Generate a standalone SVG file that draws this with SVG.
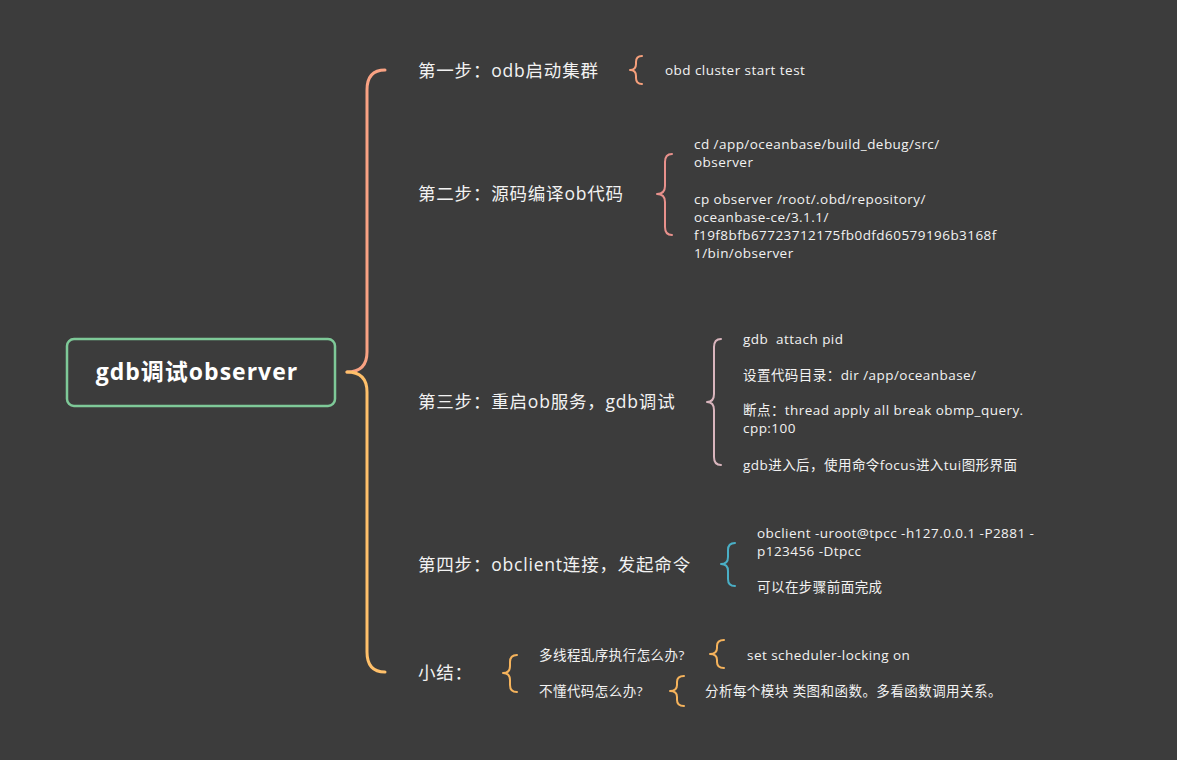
<svg xmlns="http://www.w3.org/2000/svg" width="1177" height="760" viewBox="0 0 1177 760">
<style>
.br{fill:none;stroke-width:2;stroke-linecap:round;stroke-linejoin:round}
.main{font-family:"Open Sans","Noto Sans CJK SC",sans-serif;font-size:17.5px;letter-spacing:0.8px;fill:#f2f2f2}
.sub{font-family:"Open Sans","Noto Sans CJK SC",sans-serif;font-size:13.5px;letter-spacing:0.45px;fill:#f2f2f2}
</style>
<rect width="1177" height="760" fill="#3c3c3c"/>
<g id="connectors">
<path class="br" style="stroke:#f9a283;stroke-width:3" d="M385,70 Q367,70 367,90 L367,352 Q367,372 347,372"/>
<path class="br" style="stroke:#ffc06a;stroke-width:3" d="M347,372 Q367,372 367,392 L367,652 Q367,672 385,672"/>
<path class="br" style="stroke:#f6a07c" d="M642,56 Q636,56 636,62 L636,64 Q636,70 630,70 Q636,70 636,76 L636,78 Q636,84 642,84"/>
<path class="br" style="stroke:#e8918c" d="M672,154 Q665,154 665,162 L665,186 Q665,194 657,194 Q665,194 665,202 L665,227 Q665,235 672,235"/>
<path class="br" style="stroke:#d9b5bd" d="M721,339 Q714,339 714,347 L714,394 Q714,402 707,402 Q714,402 714,410 L714,457 Q714,465 721,465"/>
<path class="br" style="stroke:#4aafc6" d="M735,543 Q728,543 728,550 L728,557 Q728,564 721,564 Q728,564 728,571 L728,579 Q728,586 735,586"/>
<path class="br" style="stroke:#f5b35c" d="M517,655 Q510,655 510,662 L510,666 Q510,673 503,673 Q510,673 510,680 L510,685 Q510,692 517,692"/>
<path class="br" style="stroke:#f5b35c" d="M724,640 Q717,640 717,646 L717,648 Q717,654 710,654 Q717,654 717,660 L717,662 Q717,668 724,668"/>
<path class="br" style="stroke:#f5b35c" d="M684,676 Q677,676 677,682 L677,685 Q677,691 670,691 Q677,691 677,697 L677,700 Q677,706 684,706"/>
</g>
<g id="root">
<rect x="67" y="339" width="268" height="67" rx="7" fill="#3c3c3c" stroke="#7ec998" stroke-width="2.5"/>
<text x="197" y="380" text-anchor="middle" style="font-family:'Open Sans','Noto Sans CJK SC',sans-serif;font-size:23px;letter-spacing:1px;font-weight:bold;fill:#ffffff">gdb调试observer</text>
</g>
<g id="step1">
<text class="main" x="418" y="77">第一步：odb启动集群</text>
<text class="sub" x="665" y="75">obd cluster start test</text>
</g>
<g id="step2">
<text class="main" x="418" y="200">第二步：源码编译ob代码</text>
<text class="sub" x="694" y="149">cd /app/oceanbase/build_debug/src/</text>
<text class="sub" x="694" y="167">observer</text>
<text class="sub" x="694" y="204">cp observer /root/.obd/repository/</text>
<text class="sub" x="694" y="222">oceanbase-ce/3.1.1/</text>
<text class="sub" x="694" y="240">f19f8bfb67723712175fb0dfd60579196b3168f</text>
<text class="sub" x="694" y="258">1/bin/observer</text>
</g>
<g id="step3">
<text class="main" x="418" y="408">第三步：重启ob服务，gdb调试</text>
<text class="sub" x="743" y="344" xml:space="preserve">gdb  attach pid</text>
<text class="sub" x="743" y="380">设置代码目录：dir /app/oceanbase/</text>
<text class="sub" x="743" y="415">断点：thread apply all break obmp_query.</text>
<text class="sub" x="743" y="433">cpp:100</text>
<text class="sub" x="743" y="470">gdb进入后，使用命令focus进入tui图形界面</text>
</g>
<g id="step4">
<text class="main" x="418" y="571">第四步：obclient连接，发起命令</text>
<text class="sub" x="757" y="538">obclient -uroot@tpcc -h127.0.0.1 -P2881 -</text>
<text class="sub" x="757" y="556">p123456 -Dtpcc</text>
<text class="sub" x="757" y="592">可以在步骤前面完成</text>
</g>
<g id="summary">
<text class="main" x="418" y="679">小结：</text>
<text class="sub" x="539" y="660">多线程乱序执行怎么办?</text>
<text class="sub" x="747" y="660">set scheduler-locking on</text>
<text class="sub" x="539" y="696">不懂代码怎么办?</text>
<text class="sub" x="705" y="696">分析每个模块 类图和函数。多看函数调用关系。</text>
</g>
</svg>
